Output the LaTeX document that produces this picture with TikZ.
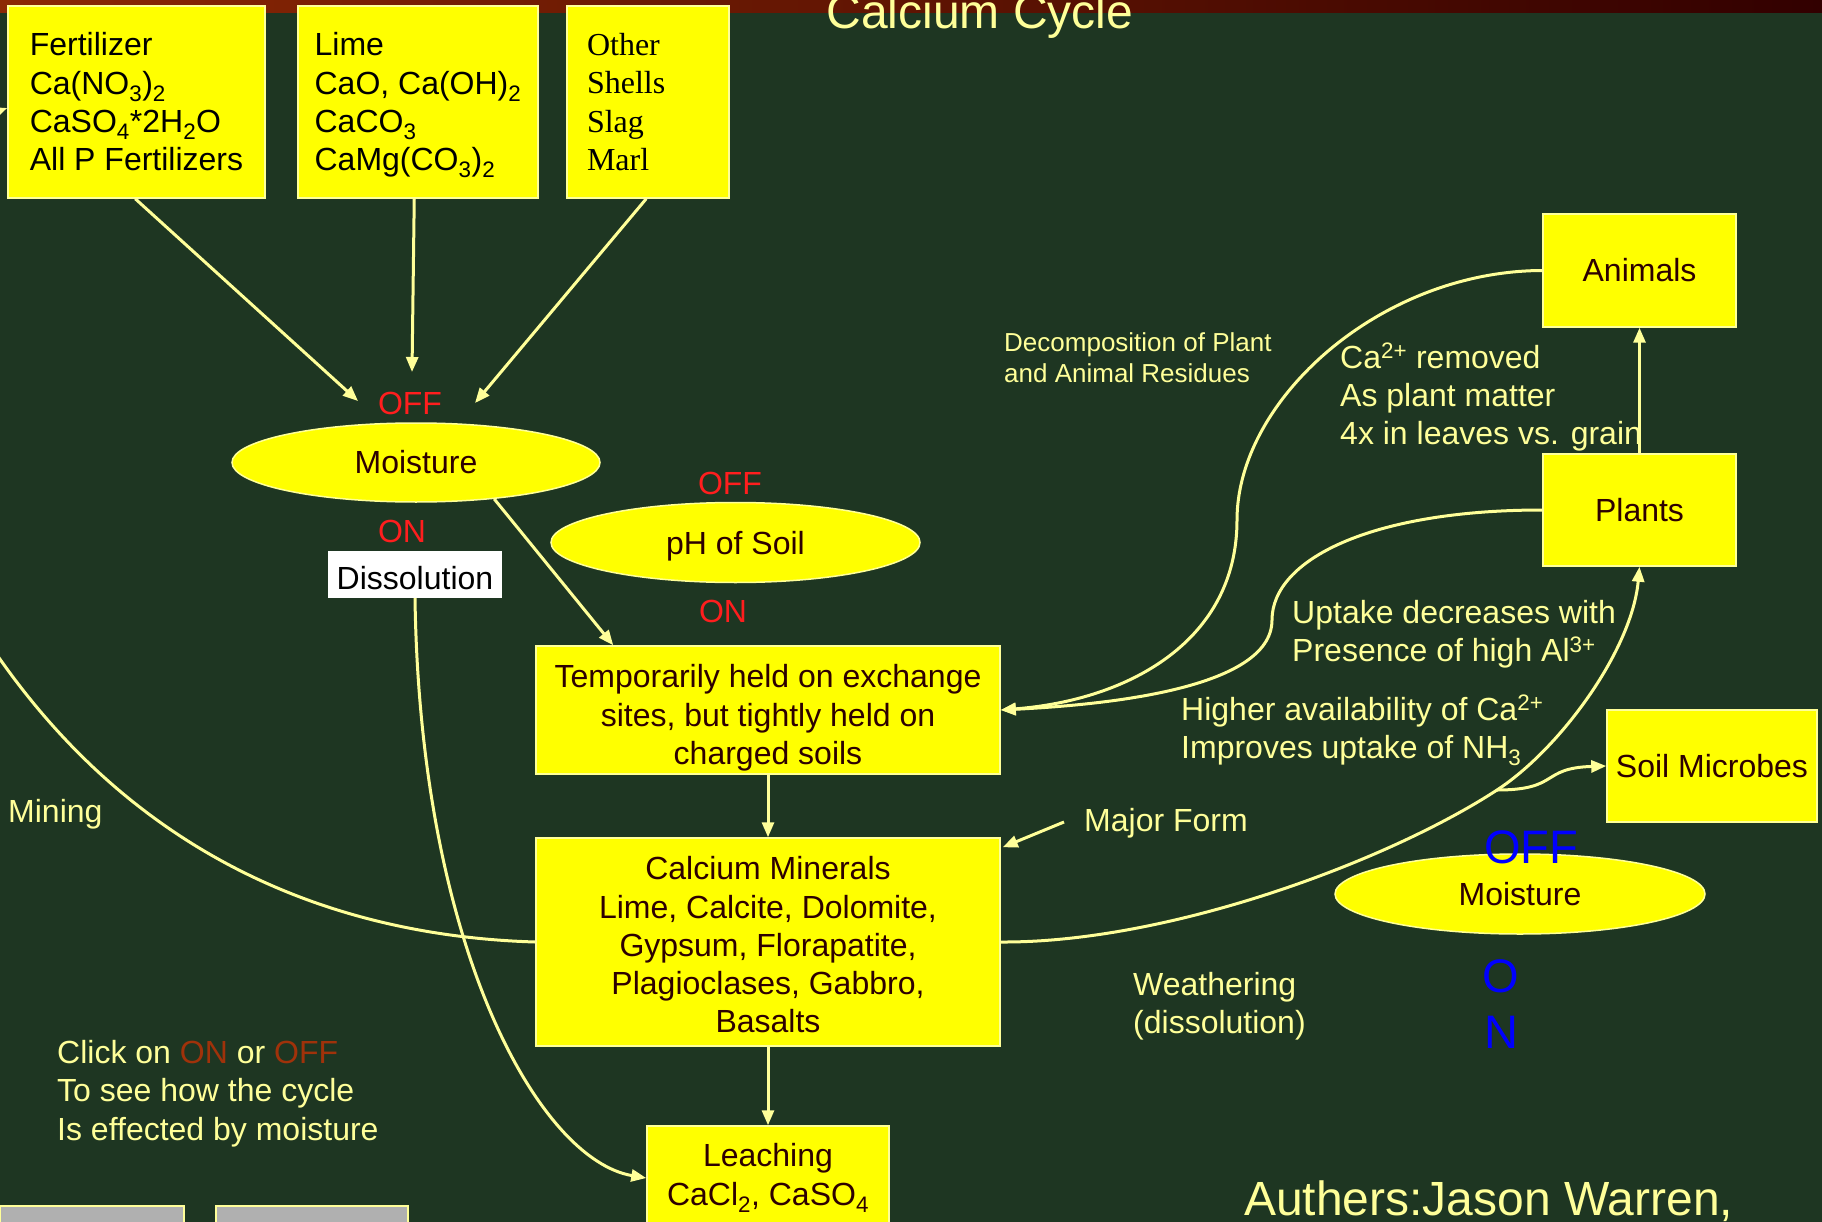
\documentclass[tikz,border=0pt]{standalone}
\usepackage{fontspec}
\setmainfont{Liberation Sans}
\newfontfamily\timesf{Liberation Serif}
\usetikzlibrary{shapes.geometric,arrows.meta,calc}
\definecolor{bg}{RGB}{30,54,34}
\definecolor{yel}{RGB}{255,255,0}
\definecolor{lyel}{RGB}{255,255,153}
\definecolor{dred}{RGB}{45,0,0}
\definecolor{onred}{RGB}{255,30,30}
\definecolor{brn}{RGB}{160,50,10}
\definecolor{bandL}{RGB}{140,40,5}
\definecolor{bandR}{RGB}{50,0,0}
\definecolor{gry}{RGB}{176,176,176}
\newcommand\fs[2]{\fontsize{#1}{#2}\selectfont}
\newcommand\lns[2]{\begin{tabular}[t]{@{}#1@{}}#2\end{tabular}}
\newcommand\up[1]{\rule{0pt}{#1}}
\begin{document}
\begin{tikzpicture}[x=1pt,y=-1pt,
  ybox/.style={rectangle, draw=lyel, line width=1.5pt, fill=yel, inner sep=0pt, text=dred, font=\fs{32}{38.3}, align=center},
  yell/.style={ellipse, draw=lyel, line width=1.5pt, fill=yel, inner sep=0pt, text=dred, font=\fs{32}{38.3}},
  conn/.style={draw=lyel, line width=3pt, -{Triangle[length=15pt,width=12pt]}},
  txt/.style={text=lyel, inner sep=0pt, anchor=base west, font=\fs{32}{38.3}},
  onoff/.style={text=onred, inner sep=0pt, font=\fs{32}{38.3}},
  blueonoff/.style={text=blue, inner sep=0pt, anchor=base, font=\fs{47}{56}}]
\useasboundingbox (0,0) rectangle (1822,1222);
\clip (0,0) rectangle (1822,1222);
\fill[bg] (0,0) rectangle (1822,1222);
\shade[left color=bandL,right color=bandR] (0,0) rectangle (1822,13);

% top source boxes
\node[ybox, text=black, minimum width=257pt, minimum height=192pt, align=left] (Fe) at (136.5,102)
  {Fertilizer\\Ca(NO\textsubscript{3})\textsubscript{2}\\CaSO\textsubscript{4}*2H\textsubscript{2}O\\All P Fertilizers};
\node[ybox, text=black, minimum width=240pt, minimum height=192pt, align=left] (Li) at (418,102)
  {\up{30pt}Lime\\CaO, Ca(OH)\textsubscript{2}\\CaCO\textsubscript{3}\\CaMg(CO\textsubscript{3})\textsubscript{2}};
\node[ybox, text=black, minimum width=162pt, minimum height=192pt, inner xsep=20pt, text width=122pt, align=left, font=\timesf\fs{32}{38.3}] (Ot) at (648,102)
  {Other\\Shells\\Slag\\Marl};

% central column
\node[yell, minimum width=368pt, minimum height=79pt] (Mo) at (416,462.5) {Moisture};
\node[rectangle, fill=white, inner sep=0pt, minimum width=174pt, minimum height=47pt, font=\fs{32}{38.3}] (Di) at (415,574.5) {\up{30pt}Dissolution};
\node[yell, minimum width=369pt, minimum height=80pt] (pH) at (735.5,542.5) {\up{30pt}pH of Soil};
\node[ybox, minimum width=464pt, minimum height=128pt] (Te) at (768,710)
  {\up{39pt}Temporarily held on exchange\\sites, but tightly held on\\charged soils};
\node[ybox, minimum width=464pt, minimum height=208pt] (CM) at (768,942)
  {\up{29pt}Calcium Minerals\\Lime, Calcite, Dolomite,\\Gypsum, Florapatite,\\Plagioclases, Gabbro,\\Basalts};
\node[ybox, minimum width=242pt, minimum height=104pt] (Le) at (768,1178)
  {Leaching\\CaCl\textsubscript{2}, CaSO\textsubscript{4}};

% right column
\node[ybox, minimum width=193pt, minimum height=113pt] (An) at (1639.5,270.5) {Animals};
\node[ybox, minimum width=193pt, minimum height=112pt] (Pl) at (1639.5,510) {Plants};
\node[ybox, minimum width=210pt, minimum height=112pt] (SM) at (1712,766) {Soil Microbes};
\node[yell, minimum width=370pt, minimum height=80pt] (Mo2) at (1520,894) {Moisture};

% bottom-left buttons
\filldraw[fill=gry, draw=lyel, line width=1.5pt] (0,1206) rectangle (184,1240);
\filldraw[fill=gry, draw=lyel, line width=1.5pt] (216,1206) rectangle (408,1240);

% free ends
\coordinate (f1) at (358,401);
\coordinate (f2) at (412,372);
\coordinate (f3) at (475,403);
\coordinate (mf) at (1064,822);
\coordinate (br) at (1497,790);

% connectors
\draw[conn] ($(Fe.south west)+(128,0)$) -- (f1);
\draw[conn] ($(Li.south west)+(117,0)$) -- (f2);
\draw[conn] ($(Ot.south west)+(80,0)$) -- (f3);
\draw[conn] (Mo.-25) -- ($(Te.north west)+(78,0)$);
\draw[conn] (Di.south) .. controls (420,950) and (540,1160) .. (Le.west);
\draw[conn] (Te.south) -- (CM.north);
\draw[conn] (CM.south) -- (Le.north);
\draw[conn] (CM.west) .. controls (300,935) and (80,830) .. (-60,560)
   .. controls (-150,420) and (-80,140) .. ($(Fe.west)+(0,6)$);
\draw[conn] (CM.east) .. controls (1170,943) and (1390,860) .. (br)
   .. controls (1560,749) and (1632,650) .. (Pl.south);
\draw[conn] (br) .. controls (1560,790) and (1540,768) .. (SM.west);
\draw[conn] (Pl.north) -- (An.south);
\draw[conn] (An.west) .. controls (1380,271) and (1237,400) .. (1237,520)
   .. controls (1237,640) and (1130,700) .. (Te.east);
\draw[conn] (Pl.west) .. controls (1370,510) and (1272,560) .. (1272,620)
   .. controls (1272,690) and (1100,705) .. (Te.east);
\draw[conn] (mf) -- ($(CM.north east)+(2,10)$);

% switch labels
\node[onoff] (off1) at (410,403) {OFF};
\node[onoff] (on1) at (402,531) {ON};
\node[onoff] (off2) at (730,483) {OFF};
\node[onoff] (on2) at (723,611) {ON};
\node[blueonoff] (off3) at (1531,863) {OFF};
\node[blueonoff] (on3) at (1501,992) {\fs{47}{56}\lns{c}{O\\N}};

% free texts
\node[txt, anchor=base, font=\fs{48}{56}] (title) at (980,29) {Calcium Cycle};
\node[txt, font=\fs{26}{31}] (dec) at (1004,352) {\lns{l}{Decomposition of Plant\\and Animal Residues}};
\node[txt] (rem) at (1340,368) {\lns{l}{Ca\textsuperscript{2+} removed\\As plant matter\\4x in leaves vs. grain}};
\node[txt] (upt) at (1292,623.5) {\lns{l}{Uptake decreases with\\Presence of high Al\textsuperscript{3+}}};
\node[txt] (hig) at (1181,720) {\lns{l}{Higher availability of Ca\textsuperscript{2+}\\Improves uptake of NH\textsubscript{3}}};
\node[txt] (maj) at (1084,831) {Major Form};
\node[txt] (wea) at (1133,995.5) {\lns{l}{Weathering\\(dissolution)}};
\node[txt] (min) at (8,822.5) {Mining};
\node[txt] (cli) at (57,1063.5) {\lns{l}{Click on \textcolor{brn}{ON} or \textcolor{brn}{OFF}\\To see how the cycle\\Is effected by moisture}};
\node[txt, font=\fs{48}{56}] (aut) at (1244,1215) {Authers:Jason Warren,};
\end{tikzpicture}
\end{document}
